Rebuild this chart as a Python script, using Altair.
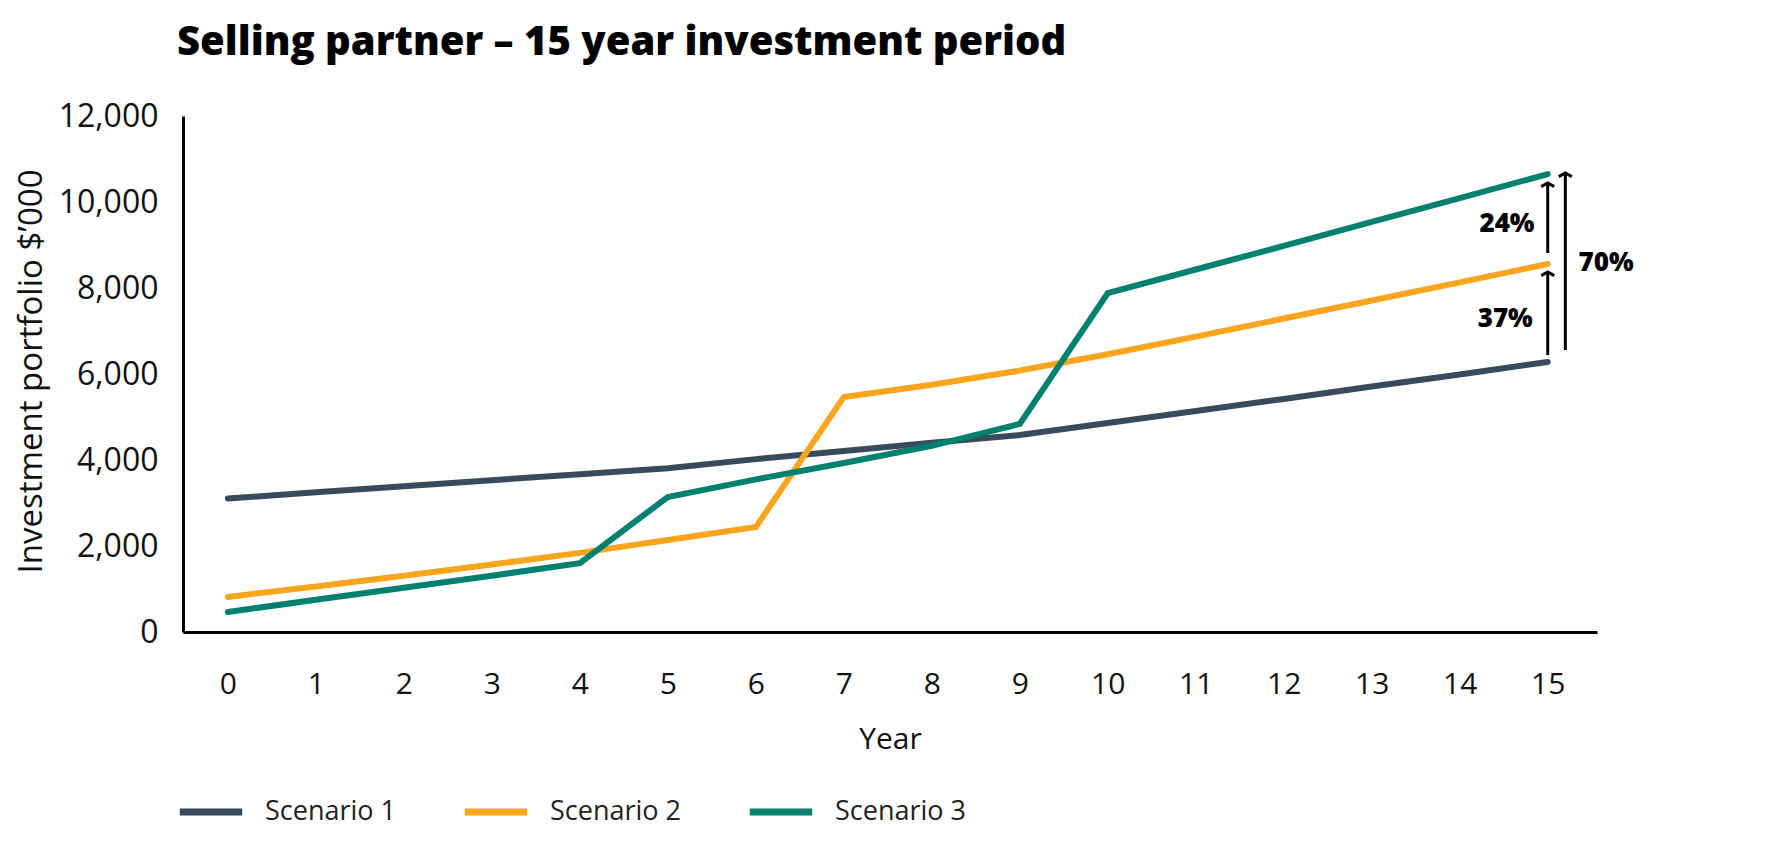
import altair as alt
import pandas as pd

years = list(range(16))
scenario1 = [3105, 3250, 3390, 3530, 3670, 3810, 4020, 4210, 4400, 4580, 4860, 5140, 5420, 5710, 5990, 6280]
scenario2 = [815, 1060, 1310, 1570, 1840, 2140, 2440, 5465, 5750, 6080, 6460, 6870, 7290, 7710, 8130, 8558]
scenario3 = [465, 750, 1030, 1310, 1600, 3140, 3550, 3930, 4330, 4840, 7880, 8430, 8980, 9540, 10090, 10650]
series_names = ["Scenario 1", "Scenario 2", "Scenario 3"]
series_colors = ["#384a5b", "#f9a51e", "#00806f"]

# annotation arrows (data units)
arrow_x = [15.0, 15.0, 15.2]
arrow_from = [8814, 6442, 6558]
arrow_to = [10442, 8372, 10674]
label_text = ["24%", "37%", "70%"]
label_x = [14.85, 14.83, 15.35]
label_y = [9490, 7280, 8580]
label_align = ["right", "right", "left"]

rows = []
for name, vals in zip(series_names, [scenario1, scenario2, scenario3]):
    for yr, v in zip(years, vals):
        rows.append({"Year": yr, "Value": v, "Series": name})
df = pd.DataFrame(rows)

arrows = pd.DataFrame({"x": arrow_x, "y1": arrow_from, "y2": arrow_to})
labels = pd.DataFrame({"x": label_x, "y": label_y, "t": label_text, "a": label_align})

FONT = "Open Sans"

xscale = alt.Scale(domain=[-0.51, 15.56], nice=False, zero=False)
yscale = alt.Scale(domain=[0, 12000], nice=False)

lines = alt.Chart(df).mark_line(strokeWidth=6, strokeCap="round").encode(
    x=alt.X("Year:Q", scale=xscale,
            axis=alt.Axis(values=years, format="d", title="Year", ticks=False, grid=False,
                          labelPadding=37, titlePadding=25, domainColor="black", domainWidth=3)),
    y=alt.Y("Value:Q", scale=yscale,
            axis=alt.Axis(values=list(range(0, 12001, 2000)), format=",.0f", title="Investment portfolio $’000",
                          ticks=False, grid=False, labelPadding=25, labelFontSize=32,
                          titleFontSize=33, titleX=-152, titleY=255, titleAngle=270,
                          titleAlign="center", titleBaseline="middle",
                          domainColor="black", domainWidth=3)),
    color=alt.Color("Series:N", scale=alt.Scale(domain=series_names, range=series_colors),
                    legend=alt.Legend(title=None, orient="none", legendX=-7, legendY=661,
                                      direction="horizontal", symbolType="stroke",
                                      symbolStrokeWidth=7, symbolSize=3900,
                                      labelFontSize=27, labelFont=FONT, labelColor="#222",
                                      labelOffset=19, columnPadding=53)),
)

rules = alt.Chart(arrows).mark_rule(color="black", strokeWidth=3).encode(
    x="x:Q", y="y1:Q", y2="y2:Q"
)

heads = alt.Chart(arrows).mark_point(
    shape="M-1,0.55L0,0L1,0.55", filled=False, color="black", strokeWidth=3, size=169, opacity=1
).encode(x="x:Q", y="y2:Q")

texts_r = alt.Chart(labels[labels.a == "right"]).mark_text(
    align="right", baseline="middle", font=FONT, fontSize=26, fontWeight=800, color="black"
).encode(x="x:Q", y="y:Q", text="t:N")

texts_l = alt.Chart(labels[labels.a == "left"]).mark_text(
    align="left", baseline="middle", font=FONT, fontSize=26, fontWeight=800, color="black"
).encode(x="x:Q", y="y:Q", text="t:N")

chart = alt.layer(lines, rules, heads, texts_r, texts_l).properties(
    width=1414, height=516,
    title=alt.TitleParams("Selling partner – 15 year investment period", anchor="start", frame="group",
                          font=FONT, fontSize=40, fontWeight=800, color="black", dx=-6, offset=37),
    autosize=alt.AutoSizeParams(type="none"),
    padding={"left": 175, "top": 108, "right": 170, "bottom": 215},
).configure_view(stroke=None).configure_axis(
    labelFont=FONT, labelFontSize=30, labelColor="#111", titleFont=FONT, titleFontSize=30,
    titleFontWeight="normal", titleColor="#111"
)

chart.save("out.html", embed_options={"renderer": "svg", "actions": False})
